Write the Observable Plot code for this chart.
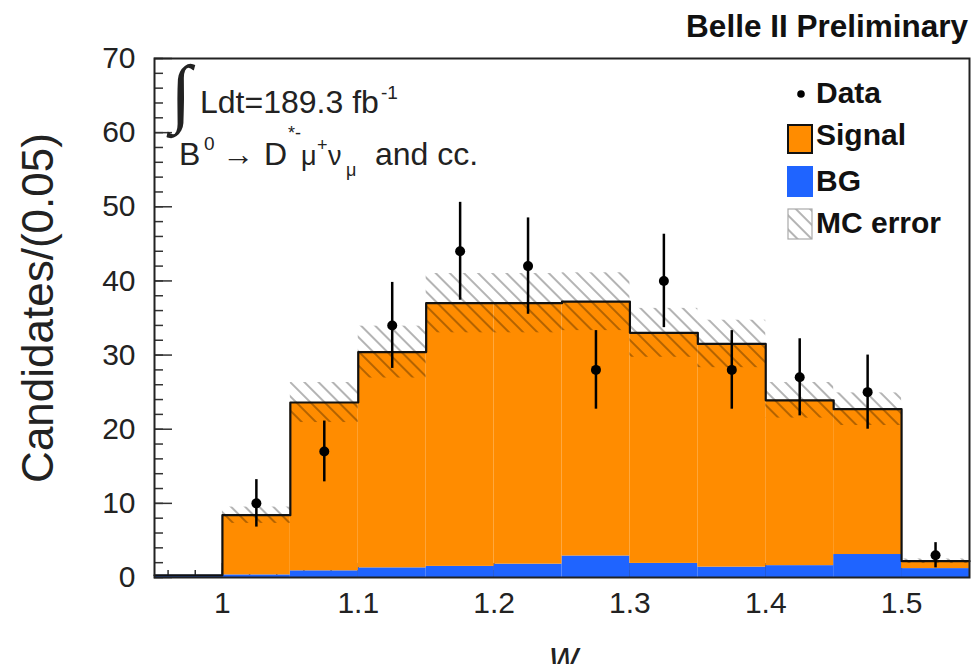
<!DOCTYPE html>
<html><head><meta charset="utf-8">
<script src="https://cdn.jsdelivr.net/npm/d3@7"></script>
<script src="https://cdn.jsdelivr.net/npm/@observablehq/plot@0.6"></script>
<style>
html,body{margin:0;padding:0;background:#fff;overflow:hidden}
</style></head><body><div id="chart"></div>
<script>
// ---- data ----
const binLow       = [0.95, 1.00, 1.05, 1.10, 1.15, 1.20, 1.25, 1.30, 1.35, 1.40, 1.45, 1.50];
const binWidth     = 0.05;
const bgValues     = [0.3, 0.35, 0.9, 1.3, 1.5, 1.8, 2.9, 1.9, 1.4, 1.6, 3.1, 1.2];
const signalValues = [0.0, 8.05, 22.7, 29.1, 35.5, 35.2, 34.3, 31.1, 30.1, 22.3, 19.6, 1.0];
const mcErrors     = [0.0, 1.1, 2.7, 3.5, 4.0, 4.0, 3.9, 3.3, 3.2, 2.4, 2.2, 0.3];
const dataW        = [1.025, 1.075, 1.125, 1.175, 1.225, 1.275, 1.325, 1.375, 1.425, 1.475, 1.525];
const dataCounts   = [10, 17, 34, 44, 42, 28, 40, 28, 27, 25, 3];
const dataErrors   = [3.2, 4.1, 5.8, 6.6, 6.5, 5.3, 6.3, 5.3, 5.2, 5.0, 1.7];
const yTicks       = [0, 10, 20, 30, 40, 50, 60, 70];
const xTicks       = [1.0, 1.1, 1.2, 1.3, 1.4, 1.5];
const xTickLabels  = ["1", "1.1", "1.2", "1.3", "1.4", "1.5"];
const yMinorTicks  = d3.range(0, 70.001, 2);
const xMinorTicks  = d3.range(0.96, 1.55, 0.02);

const ORANGE = "#ff8c00", BLUE = "#1f64ff";
const W = 971, H = 664, ML = 154, MR = 2, MT = 58, MB = 87;
const plotW = W - ML - MR, plotH = H - MT - MB;

const bins = binLow.map((lo, i) => ({
  x1: lo, x2: lo + binWidth, bg: bgValues[i],
  total: bgValues[i] + signalValues[i], err: mcErrors[i]
}));
const outline = bins.map(b => ({x: b.x1, y: b.total}));
outline.push({x: bins[bins.length - 1].x2, y: bins[bins.length - 1].total});
const data = dataW.map((w, i) => ({w, n: dataCounts[i], e: dataErrors[i]}));

const chart = Plot.plot({
  width: W, height: H,
  marginLeft: ML, marginRight: MR, marginTop: MT, marginBottom: MB,
  style: {fontFamily: "'Liberation Sans', Arial, sans-serif", fontSize: "30px", color: "#222", background: "#fff", overflow: "hidden"},
  x: {domain: [0.95, 1.55]},
  y: {domain: [0, 70]},
  marks: [
    // inward ticks (drawn first so the histogram covers them, as in the reference)
    Plot.tickY(yMinorTicks, {y: d => d, insetRight: plotW - 9, stroke: "#333", strokeWidth: 1.5}),
    Plot.tickY(yTicks, {y: d => d, insetRight: plotW - 18, stroke: "#333", strokeWidth: 1.5}),
    Plot.tickX(xMinorTicks, {x: d => d, insetTop: plotH - 7, stroke: "#333", strokeWidth: 1.5}),
    Plot.tickX(xTicks, {x: d => d, insetTop: plotH - 14, stroke: "#333", strokeWidth: 1.5}),
    Plot.axisY({ticks: yTicks, tickSize: 0, tickPadding: 19, label: null, fontSize: 30, fill: "#222"}),
    Plot.axisX({ticks: xTicks, tickSize: 0, tickPadding: 14, label: null, fontSize: 30, fill: "#222",
      tickFormat: d => xTickLabels[xTicks.findIndex(t => Math.abs(t - d) < 1e-9)]}),
    Plot.rectY(bins, {x1: "x1", x2: "x2", y1: 0, y2: "bg", fill: BLUE}),
    Plot.rectY(bins, {x1: "x1", x2: "x2", y1: "bg", y2: "total", fill: ORANGE}),
    Plot.rectY(bins.filter(b => b.err > 0), {x1: "x1", x2: "x2", y1: d => d.total - d.err, y2: d => d.total + d.err, fill: "url(#mcHatch)"}),
    Plot.line(outline, {x: "x", y: "y", curve: "step-after", stroke: "#111", strokeWidth: 2.2}),
    Plot.ruleX(data, {x: "w", y1: d => d.n - d.e, y2: d => d.n + d.e, stroke: "#000", strokeWidth: 2.5}),
    Plot.dot(data, {x: "w", y: "n", r: 5, fill: "#000"}),
    Plot.frame({stroke: "#222", strokeWidth: 2})
  ]
});
document.getElementById("chart").appendChild(chart);

// ---- hatch pattern ----
const svg = d3.select(chart);
const defs = svg.insert("defs", ":first-child");
const pat = defs.append("pattern").attr("id", "mcHatch").attr("patternUnits", "userSpaceOnUse")
  .attr("width", 10).attr("height", 10).attr("patternTransform", "rotate(-45)");
pat.append("line").attr("x1", 5).attr("y1", 0).attr("x2", 5).attr("y2", 10)
  .attr("stroke", "rgba(0,0,0,0.42)").attr("stroke-width", 1.4);

const font = "'Liberation Sans', Arial, sans-serif";
const g = svg.append("g").attr("font-family", font).attr("fill", "#111").attr("text-anchor", "start");

// title
g.append("text").attr("x", 968).attr("y", 37).attr("text-anchor", "end")
  .attr("font-size", 31.5).attr("font-weight", "bold").text("Belle II Preliminary");

// y label
g.append("text").attr("transform", "translate(53,308) rotate(-90)").attr("text-anchor", "middle")
  .attr("font-size", 44).attr("fill", "#222").text("Candidates/(0.05)");

// x label
g.append("text").attr("x", 564).attr("y", 670).attr("text-anchor", "middle")
  .attr("font-size", 40).attr("font-style", "italic").attr("fill", "#222").text("w");

// annotations
g.append("text").attr("x", 181).attr("y", 118).attr("text-anchor", "middle")
  .attr("font-family", "'Liberation Serif', serif").attr("font-size", 76).attr("fill", "#222").text("∫");
const t1 = g.append("text").attr("font-size", 32).attr("fill", "#222");
t1.append("tspan").attr("x", 200).attr("y", 113).text("Ldt=189.3 fb");
t1.append("tspan").attr("x", 381).attr("y", 99).attr("font-size", 19).text("-1");
const t2 = g.append("text").attr("font-size", 32).attr("fill", "#222");
t2.append("tspan").attr("x", 179).attr("y", 165).text("B");
t2.append("tspan").attr("x", 204).attr("y", 150).attr("font-size", 19).text("0");
t2.append("tspan").attr("x", 222).attr("y", 165).text("→");
t2.append("tspan").attr("x", 264).attr("y", 165).text("D");
t2.append("tspan").attr("x", 288).attr("y", 139).attr("font-size", 18).text("*-");
t2.append("tspan").attr("x", 301).attr("y", 165).attr("font-size", 27).text("μ");
t2.append("tspan").attr("x", 317).attr("y", 151).attr("font-size", 18).text("+");
t2.append("tspan").attr("x", 328).attr("y", 165).attr("font-size", 27).text("ν");
t2.append("tspan").attr("x", 346).attr("y", 176).attr("font-size", 18).text("μ");
t2.append("tspan").attr("x", 375).attr("y", 165).text("and cc.");

// legend
const lg = g.append("g").attr("font-size", 30).attr("font-weight", "bold");
lg.append("circle").attr("cx", 801).attr("cy", 94).attr("r", 3.8).attr("fill", "#000");
lg.append("text").attr("x", 816).attr("y", 103).text("Data");
lg.append("rect").attr("x", 788).attr("y", 125).attr("width", 24).attr("height", 28)
  .attr("fill", ORANGE).attr("stroke", "#111").attr("stroke-width", 2);
lg.append("text").attr("x", 816).attr("y", 145).text("Signal");
lg.append("rect").attr("x", 787).attr("y", 166).attr("width", 26).attr("height", 31).attr("fill", BLUE);
lg.append("text").attr("x", 816).attr("y", 191).text("BG");
lg.append("rect").attr("x", 788).attr("y", 209).attr("width", 24).attr("height", 30)
  .attr("fill", "url(#mcHatch)").attr("stroke", "#aaa").attr("stroke-width", 1.2);
lg.append("text").attr("x", 816).attr("y", 233).text("MC error");
</script></body></html>
